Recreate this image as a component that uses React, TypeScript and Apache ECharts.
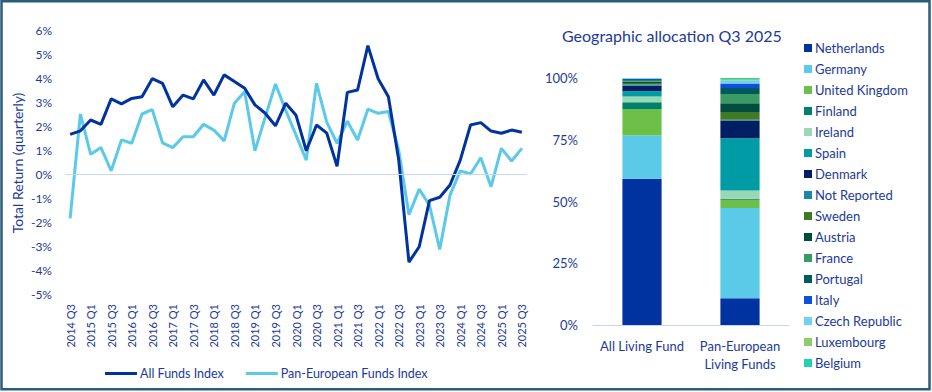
import React, { useEffect, useRef } from "react";
import * as echarts from "echarts";

const quarters = [
  "2014 Q3", "2014 Q4", "2015 Q1", "2015 Q2", "2015 Q3", "2015 Q4",
  "2016 Q1", "2016 Q2", "2016 Q3", "2016 Q4", "2017 Q1", "2017 Q2",
  "2017 Q3", "2017 Q4", "2018 Q1", "2018 Q2", "2018 Q3", "2018 Q4",
  "2019 Q1", "2019 Q2", "2019 Q3", "2019 Q4", "2020 Q1", "2020 Q2",
  "2020 Q3", "2020 Q4", "2021 Q1", "2021 Q2", "2021 Q3", "2021 Q4",
  "2022 Q1", "2022 Q2", "2022 Q3", "2022 Q4", "2023 Q1", "2023 Q2",
  "2023 Q3", "2023 Q4", "2024 Q1", "2024 Q2", "2024 Q3", "2024 Q4",
  "2025 Q1", "2025 Q2", "2025 Q3",
];

const allFunds = [
  1.65, 1.8, 2.25, 2.07, 3.13, 2.92, 3.15, 3.22, 3.97, 3.78, 2.8, 3.29,
  3.13, 3.92, 3.29, 4.13, 3.85, 3.57, 2.88, 2.53, 2.01, 2.95, 2.45, 0.97,
  2.04, 1.7, 0.32, 3.4, 3.5, 5.35, 3.97, 3.22, 0.6, -3.67, -3.03, -1.11,
  -0.97, -0.46, 0.58, 2.04, 2.14, 1.79, 1.7, 1.83, 1.74,
];

const panEuropean = [
  -1.85, 2.5, 0.82, 1.1, 0.13, 1.42, 1.28, 2.5, 2.68, 1.3, 1.1, 1.55,
  1.55, 2.07, 1.83, 1.38, 2.95, 3.43, 0.97, 2.36, 3.75, 2.65, 1.62, 0.58,
  3.78, 2.15, 1.28, 2.2, 1.42, 2.7, 2.53, 2.6, 1.0, -1.7, -0.63, -1.3,
  -3.14, -0.88, 0.13, 0.0, 0.68, -0.53, 1.07, 0.54, 1.07,
];

const fundCategories = ["All Living Fund", "Pan-European\nLiving Funds"];

const countries = [
  "Netherlands", "Germany", "United Kingdom", "Finland", "Ireland", "Spain",
  "Denmark", "Not Reported", "Sweden", "Austria", "France", "Portugal",
  "Italy", "Czech Republic", "Luxembourg", "Belgium",
];

const allLivingShares = [
  59.2, 17.5, 10.8, 2.7, 2.3, 2.1, 2.3, 0.5, 0.6, 0.5, 0.4, 0.3, 0.4, 0.2, 0.1, 0.1,
];

const panEuropeanShares = [
  10.8, 36.6, 3.3, 0.4, 3.4, 21.1, 7.2, 0.3, 3.1, 3.6, 3.7, 2.5, 1.8, 1.3, 0.5, 0.4,
];

const countryColors = [
  "#0033A0", "#5BC9E8", "#6CC04A", "#00816D", "#98D8B2", "#009CA6",
  "#001E62", "#1A86A8", "#3F7A26", "#004C3F", "#3A9A63", "#005A5B",
  "#0D50E0", "#72D2EE", "#8CCF6A", "#22D3B0",
];

const yTicksLeft = { min: -5, max: 6, interval: 1 };

const FONT = "Lato, 'Noto Sans', sans-serif";
const TEXT = "#1c3a9a";

export default function App() {
  const ref = useRef<HTMLDivElement>(null);

  useEffect(() => {
    if (!ref.current) return;
    const chart = echarts.init(ref.current, undefined, { renderer: "svg" });

    const barSeries = countries.map((name, i) => ({
      name,
      type: "bar",
      stack: "alloc",
      xAxisIndex: 1,
      yAxisIndex: 1,
      barWidth: "40%",
      itemStyle: { color: countryColors[i] },
      data: [allLivingShares[i], panEuropeanShares[i]],
    }));

    chart.setOption({
      animation: false,
      textStyle: { fontFamily: FONT, color: TEXT },
      title: {
        text: "Geographic allocation Q3 2025",
        left: 557,
        top: 22,
        textStyle: { fontFamily: FONT, fontSize: 16, fontWeight: "normal", color: TEXT },
      },
      graphic: [
        {
          type: "rect",
          shape: { x: 1.5, y: 1.2, width: 928, height: 388 },
          style: { fill: "none", stroke: "#2a5d7c", lineWidth: 2.5 },
          silent: true,
        },
        {
          type: "text",
          x: 17,
          y: 163,
          rotation: Math.PI / 2,
          style: {
            text: "Total Return (quarterly)",
            fontFamily: FONT,
            fontSize: 14,
            fill: TEXT,
            align: "center",
            verticalAlign: "middle",
          },
        },
      ],
      legend: [
        {
          data: ["All Funds Index", "Pan-European Funds Index"],
          left: 100,
          top: 362,
          icon: "rect",
          itemWidth: 32,
          itemHeight: 3,
          itemGap: 22,
          textStyle: { fontFamily: FONT, fontSize: 12.5, color: TEXT, padding: [0, 0, 0, -2] },
        },
        {
          data: countries,
          orient: "vertical",
          left: 799,
          top: 36,
          icon: "rect",
          itemWidth: 8,
          itemHeight: 8,
          itemGap: 7,
          textStyle: { fontFamily: FONT, fontSize: 13, color: TEXT, lineHeight: 14, padding: [0, 0, 0, -2] },
        },
      ],
      grid: [
        { left: 65, right: 405, top: 30, bottom: 98 },
        { left: 593, right: 143, top: 78, bottom: 67 },
      ],
      xAxis: [
        {
          type: "category",
          gridIndex: 0,
          data: quarters,
          boundaryGap: true,
          axisLine: { show: false, onZero: false },
          axisTick: { show: false },
          axisLabel: {
            rotate: 90,
            interval: 1,
            fontSize: 11,
            margin: 10,
            color: TEXT,
            fontFamily: FONT,
          },
        },
        {
          type: "category",
          gridIndex: 1,
          data: fundCategories,
          axisLine: { show: true, lineStyle: { color: "#c9d6f0", width: 1 } },
          axisTick: { show: false },
          axisLabel: {
            interval: 0,
            fontSize: 13,
            color: TEXT,
            fontFamily: FONT,
            margin: 12,
            lineHeight: 18,
          },
        },
      ],
      yAxis: [
        {
          type: "value",
          gridIndex: 0,
          min: yTicksLeft.min,
          max: yTicksLeft.max,
          interval: yTicksLeft.interval,
          splitLine: { show: false },
          axisLine: { show: false },
          axisTick: { show: false },
          axisLabel: {
            formatter: "{value}%",
            fontSize: 12,
            margin: 13,
            color: TEXT,
            fontFamily: FONT,
          },
        },
        {
          type: "value",
          gridIndex: 1,
          min: 0,
          max: 100,
          interval: 25,
          splitLine: { show: false },
          axisLine: { show: false },
          axisTick: { show: false },
          axisLabel: {
            formatter: "{value}%",
            fontSize: 13,
            margin: 15,
            color: TEXT,
            fontFamily: FONT,
          },
        },
      ],
      series: [
        {
          name: "All Funds Index",
          type: "line",
          xAxisIndex: 0,
          yAxisIndex: 0,
          data: allFunds,
          symbol: "none",
          z: 4,
          lineStyle: { color: "#0033A0", width: 3 },
          itemStyle: { color: "#0033A0" },
          markLine: {
            silent: true,
            symbol: "none",
            label: { show: false },
            lineStyle: { color: "#c9d6f0", width: 1, type: "solid" },
            data: [{ yAxis: 0 }],
          },
        },
        {
          name: "Pan-European Funds Index",
          type: "line",
          xAxisIndex: 0,
          yAxisIndex: 0,
          data: panEuropean,
          symbol: "none",
          z: 3,
          lineStyle: { color: "#5BC9E8", width: 3 },
          itemStyle: { color: "#5BC9E8" },
        },
        ...barSeries,
      ],
    });

    return () => chart.dispose();
  }, []);

  return (
    <div
      ref={ref}
      style={{ position: "fixed", left: 0, top: 0, width: 932, height: 392, background: "#fff" }}
    />
  );
}
